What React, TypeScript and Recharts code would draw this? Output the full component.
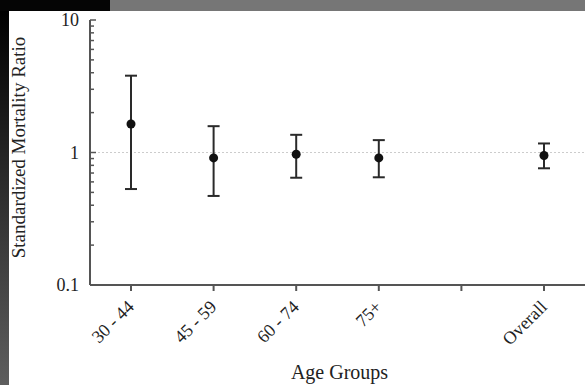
import {
  ComposedChart,
  Line,
  ErrorBar,
  XAxis,
  YAxis,
  ReferenceLine,
  Label,
} from 'recharts';

const ageGroups = ['30 - 44', '45 - 59', '60 - 74', '75+', '', 'Overall'];
const smrValues = [1.64, 0.91, 0.97, 0.91, null, 0.95];
const lowerCI = [0.53, 0.47, 0.645, 0.65, null, 0.76];
const upperCI = [3.8, 1.58, 1.36, 1.24, null, 1.17];

const majorTicks = [0.1, 1, 10];
const yTicks = [
  0.1, 0.2, 0.3, 0.4, 0.5, 0.6, 0.7, 0.8, 0.9,
  1, 2, 3, 4, 5, 6, 7, 8, 9, 10,
];

const data = ageGroups.map((group, i) => {
  const v = smrValues[i];
  const lo = lowerCI[i];
  const hi = upperCI[i];
  return {
    group,
    smr: v,
    ci: v == null || lo == null || hi == null ? null : [v - lo, hi - v],
  };
});

const FONT = '"Liberation Serif", "DejaVu Serif", serif';
const TEXT = '#222';
const AXIS = '#555';
const Y_TICK_MARGIN = 11;

const YTick = (props: any) => {
  const { x, y, payload } = props;
  const major = majorTicks.includes(payload.value);
  const axisX = x + Y_TICK_MARGIN;
  return (
    <g>
      <line
        x1={axisX}
        x2={axisX + (major ? 6 : 4)}
        y1={y}
        y2={y}
        stroke={AXIS}
        strokeWidth={1.5}
      />
      {major && (
        <text
          x={x}
          y={y}
          dy={6}
          textAnchor="end"
          fontFamily={FONT}
          fontSize={18}
          fill={TEXT}
        >
          {payload.value}
        </text>
      )}
    </g>
  );
};

const XTick = (props: any) => {
  const { x, y, payload } = props;
  const tx = x + 4;
  const ty = y + 13;
  return (
    <text
      x={tx}
      y={ty}
      textAnchor="end"
      transform={`rotate(-45, ${tx}, ${ty})`}
      fontFamily={FONT}
      fontSize={18}
      fill={TEXT}
    >
      {payload.value}
    </text>
  );
};

const Dot = (props: any) => {
  const { cx, cy } = props;
  if (cx == null || cy == null || Number.isNaN(cy)) return null;
  return <circle cx={cx} cy={cy} r={4.5} fill="#111" />;
};

const App = () => {
  return (
    <div
      style={{
        position: 'fixed',
        top: 0,
        left: 0,
        width: 585,
        height: 385,
        background: '#fff',
        overflow: 'hidden',
      }}
    >
      <ComposedChart
        width={585}
        height={385}
        data={data}
        margin={{ top: 20, right: 0, bottom: 0, left: 0 }}
      >
        <XAxis
          dataKey="group"
          height={100}
          interval={0}
          padding={{ left: 41, right: 41 }}
          tick={<XTick />}
          tickSize={6}
          tickMargin={4}
          tickLine={{ stroke: AXIS, strokeWidth: 2 }}
          axisLine={{ stroke: AXIS, strokeWidth: 2 }}
        >
          <Label
            content={(p: any) => {
              const vb = p.viewBox;
              return (
                <text
                  x={vb.x + vb.width / 2 + 2}
                  y={379}
                  textAnchor="middle"
                  fontFamily={FONT}
                  fontSize={20}
                  fill={TEXT}
                >
                  Age Groups
                </text>
              );
            }}
          />
        </XAxis>
        <YAxis
          type="number"
          scale="log"
          domain={[0.1, 10]}
          allowDataOverflow
          ticks={yTicks}
          interval={0}
          width={90}
          tickSize={0}
          tickMargin={Y_TICK_MARGIN}
          tickLine={false}
          tick={<YTick />}
          axisLine={{ stroke: AXIS, strokeWidth: 2 }}
        >
          <Label
            content={(p: any) => {
              const vb = p.viewBox;
              const cy = vb.y + vb.height / 2 - 5;
              return (
                <text
                  x={25}
                  y={cy}
                  textAnchor="middle"
                  transform={`rotate(-90, 25, ${cy})`}
                  fontFamily={FONT}
                  fontSize={19}
                  fill={TEXT}
                >
                  Standardized Mortality Ratio
                </text>
              );
            }}
          />
        </YAxis>
        <ReferenceLine y={1} stroke="#ccc" strokeDasharray="2 2" />
        <Line
          dataKey="smr"
          stroke="none"
          dot={<Dot />}
          activeDot={false}
          isAnimationActive={false}
        >
          <ErrorBar
            dataKey="ci"
            width={6}
            strokeWidth={2}
            stroke="#2a2a2a"
            isAnimationActive={false}
          />
        </Line>
      </ComposedChart>
      <div
        style={{
          position: 'absolute',
          left: 0,
          top: 0,
          width: 110,
          height: 11,
          background: '#050505',
        }}
      />
      <div
        style={{
          position: 'absolute',
          left: 110,
          top: 0,
          width: 475,
          height: 11,
          background: '#767676',
        }}
      />
      <div
        style={{
          position: 'absolute',
          left: 0,
          top: 11,
          width: 9,
          height: 374,
          background: 'linear-gradient(#000, #5e5e5e)',
        }}
      />
    </div>
  );
};

export default App;
